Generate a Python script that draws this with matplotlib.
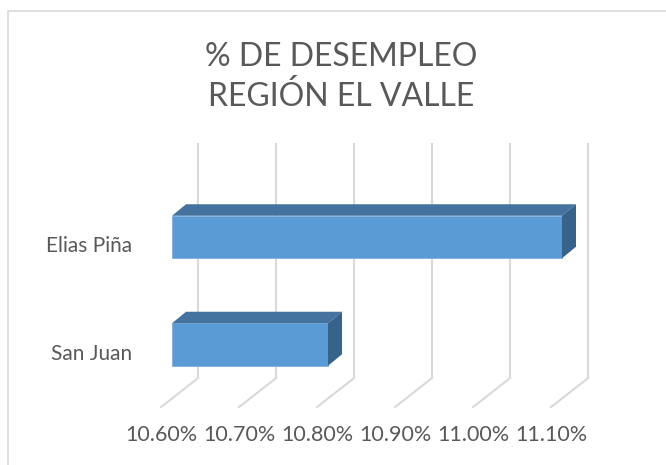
import numpy as np
import matplotlib.pyplot as plt
import matplotlib.transforms as mtransforms
from matplotlib.patches import Polygon

categories = ['San Juan', 'Elias Piña']
values = [10.80, 11.10]          # % desempleo
ticks = [10.60, 10.70, 10.80, 10.90, 11.00, 11.10]
title = '% DE DESEMPLEO\nREGIÓN EL VALLE'

text_color = '#595959'
grid_color = '#D9D9D9'
front_color = '#5B9BD5'
top_color = '#44739F'
side_color = '#37628A'

W, H = 666, 465
fig = plt.figure(figsize=(W / 100, H / 100), dpi=100)
ax = fig.add_axes([0, 0, 1, 1])
ax.axis('off')

# value axis mapped so that 10.60% sits at x=172px, 78px per 0.1%
x0_px, px_per = 172, 780.0
ax.set_xlim(10.6 - x0_px / px_per, 10.6 + (W - x0_px) / px_per)
# categories 107.5px apart, Elias Piña centred at y=237px from top
y_px = 107.5
ax.set_ylim(-(H - 344.5) / y_px, 1 + 237 / y_px)

font = 'Lato'


def shift(dx, dy):
    # offset in pixels (dy positive = up)
    return ax.transData + mtransforms.ScaledTranslation(dx / 100, dy / 100, fig.dpi_scale_trans)


floor_y = -(397.6 - 344.5) / y_px
top_y = 1 + (237 - 163) / y_px

# back wall gridlines and floor lines
tr_back = shift(26, 19.5)
tr_front = shift(-11, -9.5)
for t in ticks:
    ax.plot([t, t], [floor_y, top_y], color=grid_color, lw=1.5,
            transform=tr_back, solid_capstyle='butt', zorder=1)
    p1 = tr_back.transform((t, floor_y))
    p2 = tr_front.transform((t, floor_y))
    fig.add_artist(plt.Line2D([p1[0] / W, p2[0] / W], [p1[1] / H, p2[1] / H],
                              color=grid_color, lw=1.5, zorder=1))

# bars with 3D faces
bh = 42.5 / y_px
dx_px, dy_px = 14, 11.5
start = ticks[0]
for i, v in enumerate(values):
    ax.barh(i, v - start, left=start, height=bh, color=front_color,
            edgecolor='#7FB0DD', linewidth=0.6, zorder=3)
    yt, yb = i + bh / 2, i - bh / 2
    ax.add_patch(Polygon([(start, yt), (v, yt), (v + dx_px / px_per, yt + dy_px / y_px),
                          (start + dx_px / px_per, yt + dy_px / y_px)],
                         closed=True, facecolor=top_color, edgecolor='none', zorder=3))
    ax.add_patch(Polygon([(v, yb), (v, yt), (v + dx_px / px_per, yt + dy_px / y_px),
                          (v + dx_px / px_per, yb + dy_px / y_px)],
                         closed=True, facecolor=side_color, edgecolor='none', zorder=3))

# category labels
for i, c in enumerate(categories):
    ax.text(10.6 + (132 - x0_px) / px_per, i, c, transform=shift(0, -9),
            ha='right', va='center', fontsize=15, color=text_color, family=font)

# value tick labels
for t in ticks:
    ax.text(t, floor_y, f'{t:.2f}%', transform=shift(-11, -37.5),
            ha='center', va='center', fontsize=15.5, color=text_color, family=font)

fig.text(341 / W, 1 - 77 / H, title, ha='center', va='center', fontsize=23,
         color=text_color, family=font, linespacing=1.4)

# chart border
fig.add_artist(plt.Rectangle((8 / W, -0.1), 1.2, 1.1 - 11 / H, transform=fig.transFigure,
                             fill=False, edgecolor=grid_color, lw=1.2))

fig.savefig('out.png', dpi=100)
